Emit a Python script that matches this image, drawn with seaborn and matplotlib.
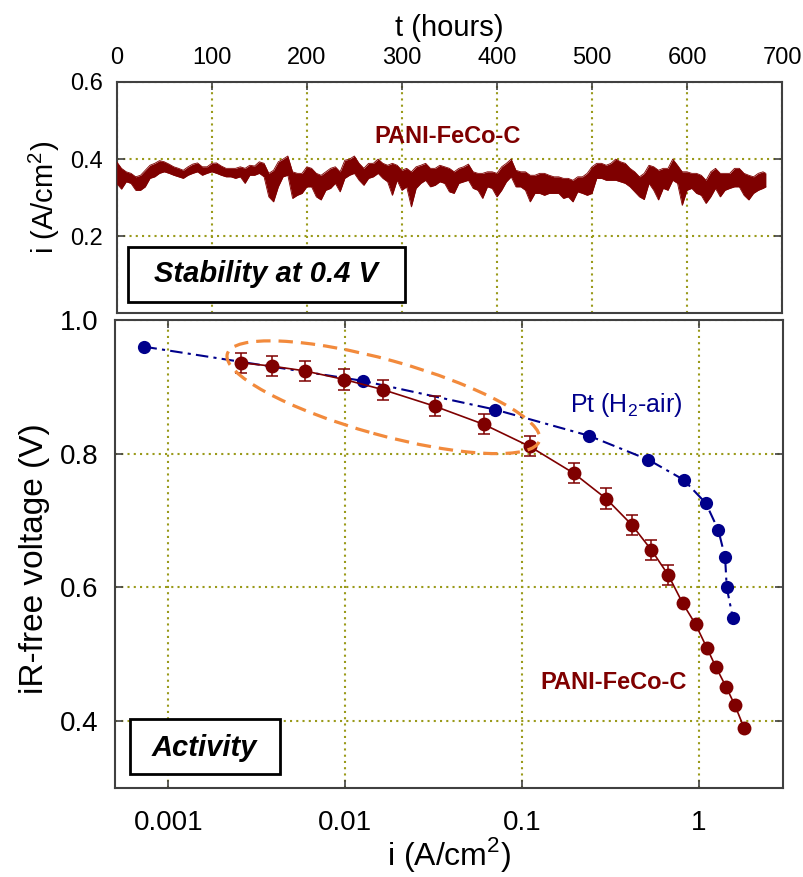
import matplotlib
matplotlib.use("Agg")
import numpy as np
import pandas as pd
import seaborn as sns
import matplotlib.pyplot as plt
from matplotlib.patches import Ellipse, Rectangle
from matplotlib.transforms import ScaledTranslation
from matplotlib.ticker import FixedLocator, NullLocator, FuncFormatter

# ---------------- data ----------------
# Stability test (top panel): time in hours, upper / lower envelope of current density
t_hours = [0, 5, 10, 15, 20, 25, 30, 35, 40, 45, 50, 55, 60, 65, 70, 75, 80, 85, 90, 95,
           100, 105, 110, 115, 120, 125, 130, 135, 140, 145, 150, 155, 160, 165, 170, 175,
           180, 185, 190, 195, 200, 205, 210, 215, 220, 225, 230, 235, 240, 245, 250, 255,
           260, 265, 270, 275, 280, 285, 290, 295, 300, 305, 310, 315, 320, 325, 330, 335,
           340, 345, 350, 355, 360, 365, 370, 375, 380, 385, 390, 395, 400, 405, 410, 415,
           420, 425, 430, 435, 440, 445, 450, 455, 460, 465, 470, 475, 480, 485, 490, 495,
           500, 505, 510, 515, 520, 525, 530, 535, 540, 545, 550, 555, 560, 565, 570, 575,
           580, 585, 590, 595, 600, 605, 610, 615, 620, 625, 630, 635, 640, 645, 650, 655,
           660, 665, 670, 675, 680, 683]
i_high = [0.393, 0.376, 0.367, 0.363, 0.354, 0.358, 0.371, 0.384, 0.389, 0.396, 0.393, 0.387,
          0.380, 0.376, 0.371, 0.380, 0.387, 0.390, 0.380, 0.380, 0.389, 0.390, 0.382, 0.376,
          0.376, 0.376, 0.380, 0.376, 0.384, 0.382, 0.393, 0.389, 0.363, 0.371, 0.393, 0.400,
          0.408, 0.367, 0.363, 0.363, 0.380, 0.376, 0.363, 0.358, 0.367, 0.376, 0.380, 0.367,
          0.397, 0.400, 0.408, 0.389, 0.376, 0.389, 0.389, 0.400, 0.389, 0.384, 0.389, 0.384,
          0.371, 0.376, 0.367, 0.380, 0.384, 0.389, 0.376, 0.376, 0.384, 0.380, 0.376, 0.367,
          0.376, 0.380, 0.387, 0.367, 0.363, 0.363, 0.367, 0.367, 0.363, 0.380, 0.389, 0.400,
          0.371, 0.367, 0.367, 0.358, 0.358, 0.363, 0.363, 0.358, 0.354, 0.354, 0.350, 0.350,
          0.345, 0.354, 0.354, 0.363, 0.380, 0.389, 0.389, 0.384, 0.389, 0.400, 0.393, 0.389,
          0.376, 0.367, 0.354, 0.363, 0.384, 0.380, 0.371, 0.376, 0.376, 0.400, 0.384, 0.367,
          0.367, 0.363, 0.363, 0.358, 0.345, 0.367, 0.376, 0.363, 0.363, 0.363, 0.376, 0.376,
          0.363, 0.358, 0.354, 0.363, 0.367, 0.363]
i_low = [0.337, 0.322, 0.341, 0.337, 0.319, 0.319, 0.328, 0.350, 0.354, 0.363, 0.367, 0.363,
         0.358, 0.354, 0.350, 0.358, 0.363, 0.367, 0.358, 0.363, 0.367, 0.363, 0.358, 0.354,
         0.354, 0.350, 0.354, 0.337, 0.358, 0.358, 0.363, 0.354, 0.302, 0.289, 0.328, 0.354,
         0.358, 0.298, 0.306, 0.311, 0.328, 0.328, 0.302, 0.294, 0.319, 0.324, 0.337, 0.315,
         0.350, 0.358, 0.363, 0.345, 0.332, 0.350, 0.354, 0.363, 0.350, 0.341, 0.306, 0.345,
         0.319, 0.328, 0.276, 0.324, 0.337, 0.345, 0.328, 0.332, 0.341, 0.337, 0.315, 0.311,
         0.337, 0.341, 0.345, 0.324, 0.319, 0.298, 0.328, 0.324, 0.302, 0.319, 0.341, 0.354,
         0.328, 0.328, 0.319, 0.289, 0.311, 0.311, 0.306, 0.311, 0.311, 0.311, 0.298, 0.302,
         0.289, 0.315, 0.311, 0.306, 0.311, 0.350, 0.350, 0.345, 0.345, 0.345, 0.341, 0.337,
         0.328, 0.315, 0.302, 0.295, 0.337, 0.319, 0.294, 0.324, 0.319, 0.345, 0.337, 0.280,
         0.319, 0.324, 0.311, 0.306, 0.285, 0.302, 0.324, 0.302, 0.319, 0.324, 0.328, 0.328,
         0.306, 0.294, 0.311, 0.319, 0.324, 0.328]

# Activity (bottom panel): polarization curves
pt_i = [0.000734, 0.0126, 0.0706, 0.239, 0.519, 0.822, 1.097, 1.29, 1.41, 1.44, 1.56]
pt_v = [0.960, 0.909, 0.866, 0.827, 0.791, 0.761, 0.726, 0.686, 0.645, 0.600, 0.554]

pani_i = [0.00258, 0.00387, 0.0059, 0.0099, 0.0163, 0.0322, 0.0608, 0.1106, 0.196, 0.299,
          0.417, 0.540, 0.671, 0.813, 0.959, 1.11, 1.25, 1.43, 1.60, 1.81]
pani_v = [0.936, 0.931, 0.924, 0.911, 0.896, 0.871, 0.844, 0.811, 0.771, 0.733,
          0.694, 0.656, 0.619, 0.576, 0.545, 0.510, 0.481, 0.451, 0.424, 0.389]
pani_err = [0.015, 0.015, 0.015, 0.015, 0.015, 0.015, 0.015, 0.015, 0.015, 0.015,
            0.015, 0.015, 0.015, 0, 0, 0, 0, 0, 0, 0]

top_xticks = [0, 100, 200, 300, 400, 500, 600, 700]
top_yticks = [0.2, 0.4, 0.6]
bot_xticks = [0.001, 0.01, 0.1, 1]
bot_xticklabels = ["0.001", "0.01", "0.1", "1"]
bot_yticks = [0.4, 0.6, 0.8, 1.0]

# ---------------- style ----------------
sns.set_theme(style="white")
plt.rcParams["font.family"] = ["Liberation Sans", "DejaVu Sans"]
plt.rcParams["mathtext.fontset"] = "custom"
plt.rcParams["mathtext.rm"] = "Liberation Sans"
plt.rcParams["text.color"] = "black"
plt.rcParams["axes.labelcolor"] = "black"

RED = "#7f0000"
BLUE = "#00008b"
ORANGE = "#f28a3c"
GRID = "#9a9a1a"
SPINE = "#404040"

fig = plt.figure(figsize=(8.04, 8.77), dpi=100)
ax1 = fig.add_axes([0.1452, 0.6428, 0.8275, 0.2637])
ax2 = fig.add_axes([0.143, 0.1015, 0.831, 0.5336])

for ax in (ax1, ax2):
    for s in ax.spines.values():
        s.set_color(SPINE)
        s.set_linewidth(1.5)
    ax.set_facecolor("white")

# ---------------- top panel ----------------
df_top = pd.DataFrame({"t": t_hours, "hi": i_high, "lo": i_low})
ax1.fill_between(df_top["t"], df_top["lo"], df_top["hi"], color=RED, lw=0, zorder=3)
sns.lineplot(data=df_top, x="t", y="hi", ax=ax1, color=RED, lw=0.6, zorder=3)
sns.lineplot(data=df_top, x="t", y="lo", ax=ax1, color=RED, lw=0.6, zorder=3)

ax1.set_xlim(0, 700)
ax1.set_ylim(0, 0.6)
ax1.xaxis.set_major_locator(FixedLocator(top_xticks))
ax1.yaxis.set_major_locator(FixedLocator(top_yticks))
ax1.xaxis.tick_top()
ax1.xaxis.set_label_position("top")
ax1.tick_params(axis="x", which="both", direction="in", top=True, bottom=False,
                labeltop=True, labelbottom=False, length=6, width=1.2, color=SPINE,
                labelcolor="black", labelsize=17, pad=9)
ax1.tick_params(axis="y", direction="in", left=True, right=True, length=6, width=1.2,
                color=SPINE, labelcolor="black", labelsize=17, pad=10)
ax1.grid(True, color=GRID, linestyle=(0, (1, 2)), linewidth=1.5)
ax1.set_xlabel("t (hours)", fontsize=21)
ax1.set_ylabel("i (A/cm$^2$)", fontsize=21)
ax1.xaxis.label.set_verticalalignment("center")
ax1.xaxis.set_label_coords(0.5, 1.235)
ax1.yaxis.label.set_verticalalignment("center")
ax1.yaxis.set_label_coords(-0.109, 0.5)

ax1.text(0.497, 0.765, "PANI-FeCo-C", transform=ax1.transAxes, color=RED,
         fontsize=17, fontweight="bold", ha="center", va="center")
ax1.add_patch(Rectangle((0.017, 0.049), 0.416, 0.238, transform=ax1.transAxes,
                        facecolor="white", edgecolor="black", lw=2, zorder=5))
ax1.text(0.225, 0.168, "Stability at 0.4 V", transform=ax1.transAxes, fontsize=21,
         fontweight="bold", fontstyle="italic", ha="center", va="center", zorder=6)

# ---------------- bottom panel ----------------
df_pt = pd.DataFrame({"i": pt_i, "v": pt_v})
df_pani = pd.DataFrame({"i": pani_i, "v": pani_v, "err": pani_err})

sns.lineplot(data=df_pt, x="i", y="v", ax=ax2, sort=False, color=BLUE, lw=1.5,
             linestyle=(0, (6, 2.5, 1.5, 2.5)), marker="o", markersize=9.5,
             markeredgewidth=0, zorder=4)
ax2.errorbar(df_pani["i"], df_pani["v"], yerr=df_pani["err"], fmt="none",
             ecolor=RED, elinewidth=1.1, capsize=4, capthick=1.1, zorder=4)
sns.lineplot(data=df_pani, x="i", y="v", ax=ax2, sort=False, color=RED, lw=1.2,
             marker="o", markersize=10, markeredgewidth=0, zorder=5)

ax2.set_xscale("log")
ax2.set_xlim(0.0005, 3)
ax2.set_ylim(0.3, 1.0)
ax2.xaxis.set_major_locator(FixedLocator(bot_xticks))
ax2.xaxis.set_minor_locator(NullLocator())
ax2.xaxis.set_major_formatter(FuncFormatter(
    lambda v, p: bot_xticklabels[int(np.argmin([abs(np.log10(b) - np.log10(v)) for b in bot_xticks]))]))
ax2.yaxis.set_major_locator(FixedLocator(bot_yticks))
ax2.yaxis.set_major_formatter(FuncFormatter(lambda v, p: f"{v:.1f}"))
ax2.tick_params(axis="x", direction="in", top=True, bottom=True, length=6, width=1.2,
                color=SPINE, labelcolor="black", labelsize=20, pad=16)
ax2.tick_params(axis="y", direction="in", left=True, right=True, length=6, width=1.2,
                color=SPINE, labelcolor="black", labelsize=20, pad=12)
ax2.grid(True, which="major", color=GRID, linestyle=(0, (1, 2)), linewidth=1.5)
ax2.set_xlabel("i (A/cm$^2$)", fontsize=23)
ax2.set_ylabel("iR-free voltage (V)", fontsize=24)
ax2.xaxis.label.set_verticalalignment("center")
ax2.xaxis.set_label_coords(0.5, -0.142)
ax2.yaxis.label.set_verticalalignment("center")
ax2.yaxis.set_label_coords(-0.121, 0.49)

# highlight ellipse (annotation), centred on a data point, sized in inches
ell_center_i, ell_center_v = 0.01648, 0.8845
ell = Ellipse((0, 0), width=3.24, height=0.75, angle=-15.5, fill=False,
              edgecolor=ORANGE, lw=2.3, linestyle=(0, (4.5, 2.5)), zorder=6,
              transform=fig.dpi_scale_trans + ScaledTranslation(ell_center_i, ell_center_v, ax2.transData))
ax2.add_patch(ell)

ax2.text(0.766, 0.818, "Pt (H$_2$-air)", transform=ax2.transAxes, color=BLUE,
         fontsize=18, ha="center", va="center")
ax2.text(0.747, 0.225, "PANI-FeCo-C", transform=ax2.transAxes, color=RED,
         fontsize=17, fontweight="bold", ha="center", va="center")
ax2.add_patch(Rectangle((0.0225, 0.030), 0.2245, 0.117, transform=ax2.transAxes,
                        facecolor="white", edgecolor="black", lw=2, zorder=5))
ax2.text(0.1335, 0.0855, "Activity", transform=ax2.transAxes, fontsize=21,
         fontweight="bold", fontstyle="italic", ha="center", va="center", zorder=6)

for ax in (ax1, ax2):
    leg = ax.get_legend()
    if leg is not None:
        leg.remove()

fig.savefig("out.png", dpi=100)
